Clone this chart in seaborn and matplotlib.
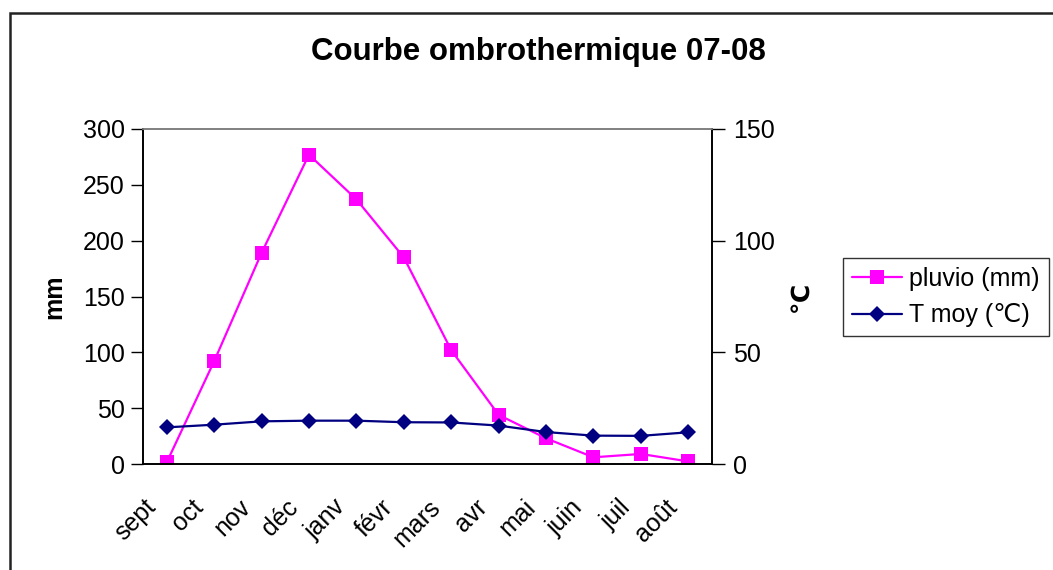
import numpy as np
import pandas as pd
import matplotlib
matplotlib.use("Agg")
import matplotlib.pyplot as plt
import matplotlib.transforms as mtransforms
import seaborn as sns
from matplotlib.patches import Rectangle

months = ["sept", "oct", "nov", "déc", "janv", "févr", "mars", "avr", "mai", "juin", "juil", "août"]
pluvio = [1.4, 92, 189, 277, 237, 185, 102, 44, 23, 6, 9, 2.3]
tmoy = [16.4, 17.6, 19.1, 19.4, 19.4, 18.7, 18.6, 17.2, 14.3, 12.7, 12.6, 14.2]
title = "Courbe ombrothermique 07-08"
label_pluvio = "pluvio (mm)"
label_t = "T moy (℃)"

sns.set_style("white")
plt.rcParams['font.family'] = ['Liberation Sans', 'DejaVu Sans']
plt.rcParams['text.color'] = 'black'
plt.rcParams['axes.labelcolor'] = 'black'
plt.rcParams['xtick.color'] = 'black'
plt.rcParams['ytick.color'] = 'black'

df = pd.DataFrame({"pos": np.arange(len(months)), "month": months,
                   "pluvio": pluvio, "tmoy": tmoy})

fig = plt.figure(figsize=(10.53, 5.70), dpi=100)
ax = fig.add_axes([143/1053, 1-464/570, (712-143)/1053, (464-129)/570])
ax2 = ax.twinx()

sns.lineplot(data=df, x="pos", y="pluvio", ax=ax, color="#FF00FF", marker="s",
             markersize=10.5, markeredgewidth=0, linewidth=1.6, label=label_pluvio,
             legend=False)
sns.lineplot(data=df, x="pos", y="tmoy", ax=ax2, color="#000080", marker="D",
             markersize=8.5, markeredgewidth=0, linewidth=1.6, label=label_t,
             legend=False)

ax.set_xlim(-0.5, len(months) - 0.5)
ax.set_ylim(0, 300)
ax2.set_ylim(0, 150)
ax.set_yticks([0, 50, 100, 150, 200, 250, 300])
ax2.set_yticks([0, 50, 100, 150])

ax.set_xticks(np.arange(len(months) + 1) - 0.5)
ax.set_xticklabels([])
ax.tick_params(axis="x", which="major", direction="inout", length=14, width=1, colors="black")
ax.tick_params(axis="y", which="major", direction="out", length=9, width=1,
               labelsize=18, pad=4, left=True)
ax2.tick_params(axis="y", which="major", direction="out", length=9, width=1,
                labelsize=18, pad=6, right=True)

# month labels, rotated, at category centres
base = mtransforms.blended_transform_factory(ax.transData, ax.transAxes)
offset = mtransforms.ScaledTranslation(-23/100, -31/100, fig.dpi_scale_trans)
for i, m in enumerate(df["month"]):
    ax.text(df["pos"][i], 0, m, transform=base + offset, rotation=45,
            rotation_mode="anchor", ha="right", va="top", fontsize=18, color="black")

ax.set_xlabel("")
ax.set_ylabel("mm", fontsize=18, fontweight="bold", labelpad=12)
ax2.set_ylabel("℃", fontsize=18, fontweight="bold", labelpad=10)

for a in (ax, ax2):
    a.grid(False)
    a.spines["top"].set_color("#808080")
    a.spines["top"].set_linewidth(1.2)
    for s in ("left", "right", "bottom"):
        a.spines[s].set_color("black")
        a.spines[s].set_linewidth(1.2)
ax.patch.set_alpha(0)

fig.text(538/1053, 1-52/570, title, ha="center", va="center", fontsize=22.5,
         fontweight="bold", color="black")

h1, l1 = ax.get_legend_handles_labels()
h2, l2 = ax2.get_legend_handles_labels()
leg = fig.legend(h1 + h2, l1 + l2, loc="upper left", bbox_to_anchor=(843/1053, 1-258/570),
                 fontsize=18, frameon=True, fancybox=False, shadow=False,
                 borderpad=0.35, handlelength=2.0, handletextpad=0.3, labelspacing=0.5,
                 borderaxespad=0)
leg.get_frame().set_edgecolor("black")
leg.get_frame().set_linewidth(1.0)
for t in leg.get_texts():
    t.set_color("black")

fig.patches.append(Rectangle((10/1053, -0.1), 1.2, 1 - 13/570 + 0.1, transform=fig.transFigure,
                             fill=False, edgecolor="#222222", linewidth=1.8, zorder=10))

fig.savefig("out.png", dpi=100)
